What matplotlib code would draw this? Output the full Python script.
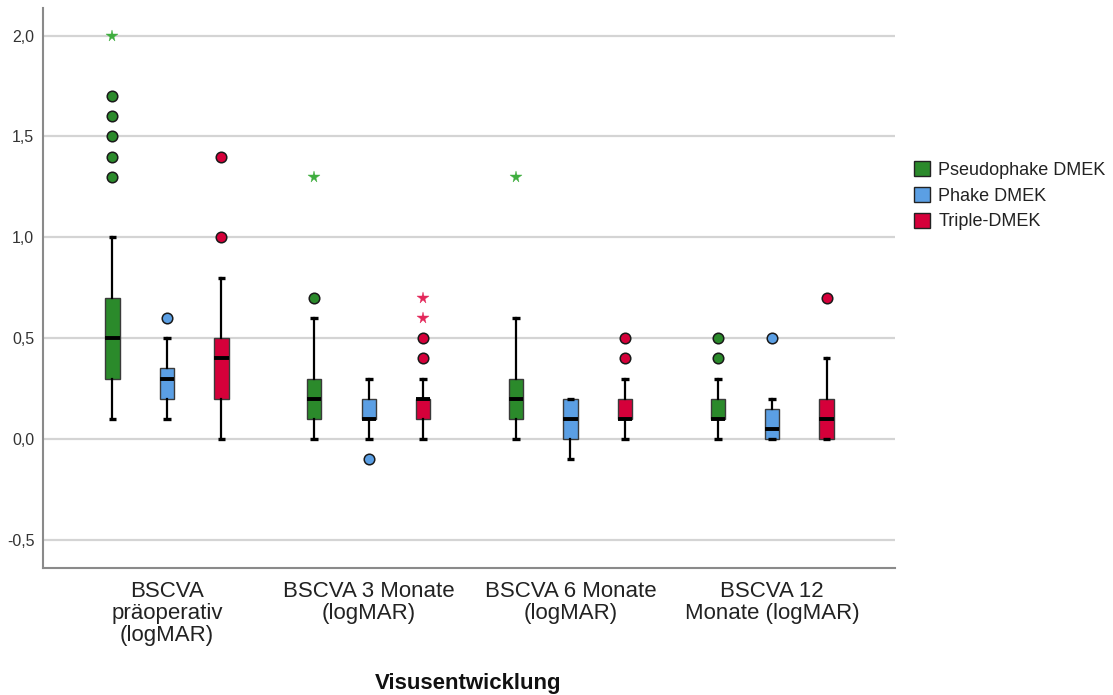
import matplotlib
matplotlib.use("Agg")
import matplotlib.pyplot as plt
from matplotlib.patches import Patch
from matplotlib.ticker import FuncFormatter

plt.rcParams['font.family'] = ['Liberation Sans', 'DejaVu Sans']

# ---- data ----
categories = ["BSCVA\npräoperativ\n(logMAR)", "BSCVA 3 Monate\n(logMAR)",
              "BSCVA 6 Monate\n(logMAR)", "BSCVA 12\nMonate (logMAR)"]
groups = ["Pseudophake DMEK", "Phake DMEK", "Triple-DMEK"]
colors = ["#2b8a2b", "#5b9fe4", "#d5003a"]
star_colors = ["#3fae3f", "#5b9fe4", "#e3285a"]

# box statistics per group: [präop, 3M, 6M, 12M]
whislo = {"Pseudophake DMEK": [0.1, 0.0, 0.0, 0.0],
          "Phake DMEK":       [0.1, 0.0, -0.1, 0.0],
          "Triple-DMEK":      [0.0, 0.0, 0.0, 0.0]}
q1 = {"Pseudophake DMEK": [0.3, 0.1, 0.1, 0.1],
      "Phake DMEK":       [0.2, 0.1, 0.0, 0.0],
      "Triple-DMEK":      [0.2, 0.1, 0.1, 0.0]}
med = {"Pseudophake DMEK": [0.5, 0.2, 0.2, 0.1],
       "Phake DMEK":       [0.3, 0.1, 0.1, 0.05],
       "Triple-DMEK":      [0.4, 0.2, 0.1, 0.1]}
q3 = {"Pseudophake DMEK": [0.7, 0.3, 0.3, 0.2],
      "Phake DMEK":       [0.35, 0.2, 0.2, 0.15],
      "Triple-DMEK":      [0.5, 0.2, 0.2, 0.2]}
whishi = {"Pseudophake DMEK": [1.0, 0.6, 0.6, 0.3],
          "Phake DMEK":       [0.5, 0.3, 0.2, 0.2],
          "Triple-DMEK":      [0.8, 0.3, 0.3, 0.4]}
# outliers (circles) and extreme values (stars)
outliers = {"Pseudophake DMEK": [[1.3, 1.4, 1.5, 1.6, 1.7], [0.7], [], [0.4, 0.5]],
            "Phake DMEK":       [[0.6], [-0.1], [], [0.5]],
            "Triple-DMEK":      [[1.0, 1.4], [0.4, 0.5], [0.4, 0.5], [0.7]]}
extremes = {"Pseudophake DMEK": [[2.0], [1.3], [1.3], []],
            "Phake DMEK":       [[], [], [], []],
            "Triple-DMEK":      [[], [0.6, 0.7], [], []]}

yticks = [-0.5, 0.0, 0.5, 1.0, 1.5, 2.0]

# ---- figure ----
W, H = 1113, 695
fig = plt.figure(figsize=(W / 100, H / 100), dpi=100)
ax = fig.add_axes([42.7 / W, 1 - 567.7 / H, (895 - 42.7) / W, (567.7 - 8) / H])

offsets = [-0.27, 0.0, 0.27]
box_w = 0.071
cap_w = 0.038
for gi, g in enumerate(groups):
    stats = []
    pos = []
    for ci in range(len(categories)):
        stats.append(dict(med=med[g][ci], q1=q1[g][ci], q3=q3[g][ci],
                          whislo=whislo[g][ci], whishi=whishi[g][ci], fliers=[]))
        pos.append(ci + offsets[gi])
    ax.bxp(stats, positions=pos, widths=box_w, patch_artist=True, showfliers=False,
           capwidths=cap_w,
           boxprops=dict(facecolor=colors[gi], edgecolor="#3a3a3a", linewidth=1.0),
           medianprops=dict(color="black", linewidth=2.8, solid_capstyle="butt"),
           whiskerprops=dict(color="black", linewidth=1.6),
           capprops=dict(color="black", linewidth=2.4, solid_capstyle="butt"),
           manage_ticks=False, zorder=3)
    for ci in range(len(categories)):
        xs = [ci + offsets[gi]] * len(outliers[g][ci])
        if xs:
            ax.plot(xs, outliers[g][ci], linestyle="none", marker="o", markersize=7.6,
                    markerfacecolor=colors[gi], markeredgecolor="#1a1a1a",
                    markeredgewidth=1.1, zorder=4)
        xs = [ci + offsets[gi]] * len(extremes[g][ci])
        if xs:
            ax.plot(xs, extremes[g][ci], linestyle="none", marker="*", markersize=8.5,
                    markerfacecolor=star_colors[gi], markeredgecolor=star_colors[gi],
                    markeredgewidth=0.3, zorder=4)

ax.set_xlim(-0.616, 3.609)
ax.set_ylim(-0.638, 2.137)
ax.set_yticks(yticks)
ax.yaxis.set_major_formatter(FuncFormatter(lambda v, p: f"{v:.1f}".replace(".", ",")))
ax.set_xticks(range(len(categories)))
ax.set_xticklabels(categories, fontsize=16, linespacing=1.08, color="#222222")
ax.tick_params(axis="y", length=0, pad=6, labelsize=11.5, labelcolor="#333333")
ax.tick_params(axis="x", length=0, pad=9.5)
ax.yaxis.grid(True, color="#d4d4d4", linewidth=1.6)
ax.set_axisbelow(True)
for s in ["top", "right"]:
    ax.spines[s].set_visible(False)
for s in ["left", "bottom"]:
    ax.spines[s].set_color("#8a8a8a")
    ax.spines[s].set_linewidth(1.5)

fig.text(468.5 / W, 1 - 683 / H, "Visusentwicklung", ha="center", va="center",
         fontsize=16, fontweight="bold", color="#111111")

handles = [Patch(facecolor=c, edgecolor="#222222", linewidth=1.0) for c in colors]
fig.legend(handles, groups, loc="upper left", bbox_to_anchor=(914 / W, 1 - 161 / H),
           frameon=False, fontsize=13, handlelength=0.9, handleheight=0.9,
           handletextpad=0.45, labelspacing=0.45, borderpad=0, borderaxespad=0,
           labelcolor="#222222")

fig.savefig("out.png", dpi=100)
